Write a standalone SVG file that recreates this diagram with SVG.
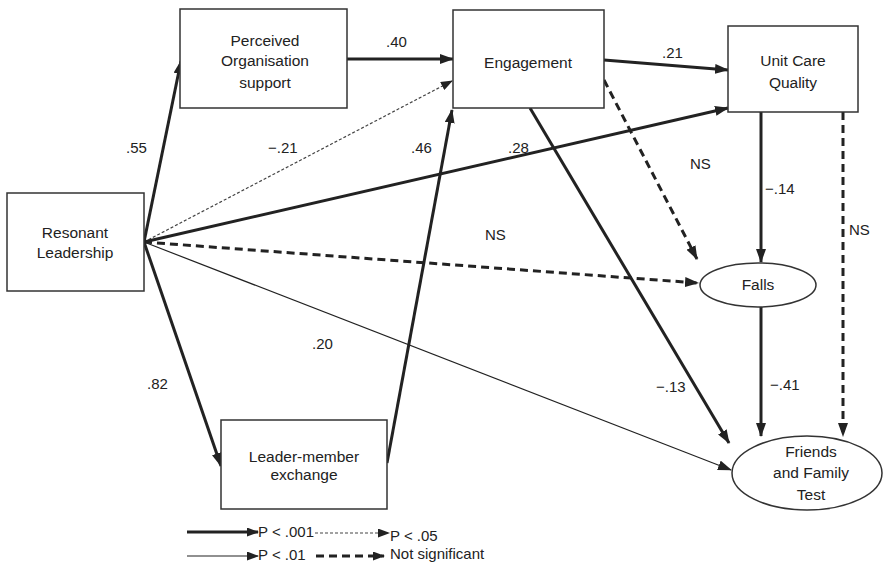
<svg xmlns="http://www.w3.org/2000/svg" width="883" height="564" viewBox="0 0 883 564">
<style>
.box{fill:#fff;stroke:#333;stroke-width:1.5}
.t{font-family:"Liberation Sans",Arial,sans-serif;font-size:15.5px;fill:#222;text-anchor:middle}
.l{font-family:"Liberation Sans",Arial,sans-serif;font-size:15px;fill:#222}
.thick{stroke:#222;stroke-width:3;fill:none}
.thin{stroke:#222;stroke-width:1.2;fill:none}
.dot{stroke:#444;stroke-width:1.2;fill:none;stroke-dasharray:3,2}
.dash{stroke:#222;stroke-width:3;fill:none;stroke-dasharray:8,5}
</style>
<defs>
<marker id="ah" markerUnits="userSpaceOnUse" markerWidth="14" markerHeight="10" refX="13" refY="5" orient="auto"><path d="M0,0 L14,5 L0,10 Z" fill="#222"/></marker>
<marker id="ahs" markerUnits="userSpaceOnUse" markerWidth="12" markerHeight="9" refX="11" refY="4.5" orient="auto"><path d="M0,0 L12,4.5 L0,9 Z" fill="#222"/></marker>
</defs>
<rect width="883" height="564" fill="#fff"/>
<g id="connectors">
<line class="thick" x1="144" y1="242" x2="181" y2="61" marker-end="url(#ah)"/>
<line class="thick" x1="347" y1="59" x2="453" y2="59" marker-end="url(#ah)"/>
<line class="dot" x1="144" y1="242" x2="452" y2="81" marker-end="url(#ahs)"/>
<line class="thick" x1="387" y1="463" x2="452" y2="110" marker-end="url(#ah)"/>
<line class="thick" x1="144" y1="242" x2="728" y2="108" marker-end="url(#ah)"/>
<line class="dash" x1="144" y1="242" x2="698" y2="283" marker-end="url(#ah)"/>
<line class="thin" x1="144" y1="242" x2="731" y2="470" marker-end="url(#ah)"/>
<line class="thick" x1="144" y1="242" x2="221" y2="466" marker-end="url(#ah)"/>
<line class="thick" x1="604" y1="60" x2="728" y2="70" marker-end="url(#ah)"/>
<line class="dash" x1="604" y1="80" x2="697" y2="259" marker-end="url(#ah)"/>
<line class="thick" x1="530" y1="108" x2="729" y2="443" marker-end="url(#ah)"/>
<line class="thick" x1="761" y1="112" x2="761" y2="262" marker-end="url(#ah)"/>
<line class="thick" x1="761" y1="307" x2="761" y2="436" marker-end="url(#ah)"/>
<line class="dash" x1="843" y1="112" x2="843" y2="436" marker-end="url(#ah)"/>
<text class="l" x="386" y="47">.40</text>
<text class="l" x="126" y="153">.55</text>
<text class="l" x="268" y="153">−.21</text>
<text class="l" x="411" y="153">.46</text>
<text class="l" x="508" y="153">.28</text>
<text class="l" x="485" y="240">NS</text>
<text class="l" x="312" y="349">.20</text>
<text class="l" x="147" y="389">.82</text>
<text class="l" x="662" y="58">.21</text>
<text class="l" x="690" y="169">NS</text>
<text class="l" x="765" y="194">−.14</text>
<text class="l" x="849" y="235">NS</text>
<text class="l" x="656" y="392">−.13</text>
<text class="l" x="770" y="390">−.41</text>
</g>
<g id="node-pos">
<rect class="box" x="180" y="9" width="167" height="99"/>
<text class="t" x="265" y="46">Perceived</text>
<text class="t" x="265" y="66">Organisation</text>
<text class="t" x="265" y="88">support</text>
</g>
<g id="node-engagement">
<rect class="box" x="453" y="10" width="151" height="98"/>
<text class="t" x="528" y="68">Engagement</text>
</g>
<g id="node-ucq">
<rect class="box" x="728" y="26" width="130" height="86"/>
<text class="t" x="793" y="66">Unit Care</text>
<text class="t" x="793" y="88">Quality</text>
</g>
<g id="node-rl">
<rect class="box" x="7" y="193" width="137" height="98"/>
<text class="t" x="75" y="238">Resonant</text>
<text class="t" x="75" y="258">Leadership</text>
</g>
<g id="node-lmx">
<rect class="box" x="221" y="420" width="166" height="89"/>
<text class="t" x="304" y="462">Leader-member</text>
<text class="t" x="304" y="480">exchange</text>
</g>
<g id="node-falls">
<ellipse class="box" cx="758" cy="285" rx="58" ry="22"/>
<text class="t" x="758" y="290">Falls</text>
</g>
<g id="node-fft">
<ellipse class="box" cx="807" cy="473" rx="75" ry="37"/>
<text class="t" x="811" y="457">Friends</text>
<text class="t" x="811" y="478">and Family</text>
<text class="t" x="811" y="500">Test</text>
</g>
<g id="legend">
<line class="thick" x1="187" y1="532" x2="258" y2="532" marker-end="url(#ahs)"/>
<text class="l" x="258" y="537">P &lt; .001</text>
<line class="dot" x1="315" y1="533" x2="389" y2="533" marker-end="url(#ahs)"/>
<text class="l" x="390" y="541">P &lt; .05</text>
<line class="thin" x1="187" y1="556" x2="258" y2="556" marker-end="url(#ahs)"/>
<text class="l" x="258" y="560">P &lt; .01</text>
<line class="dash" x1="316" y1="556" x2="384" y2="556" stroke-dasharray="6,3" marker-end="url(#ahs)"/>
<text class="l" x="390" y="559">Not significant</text>
</g>
</svg>
